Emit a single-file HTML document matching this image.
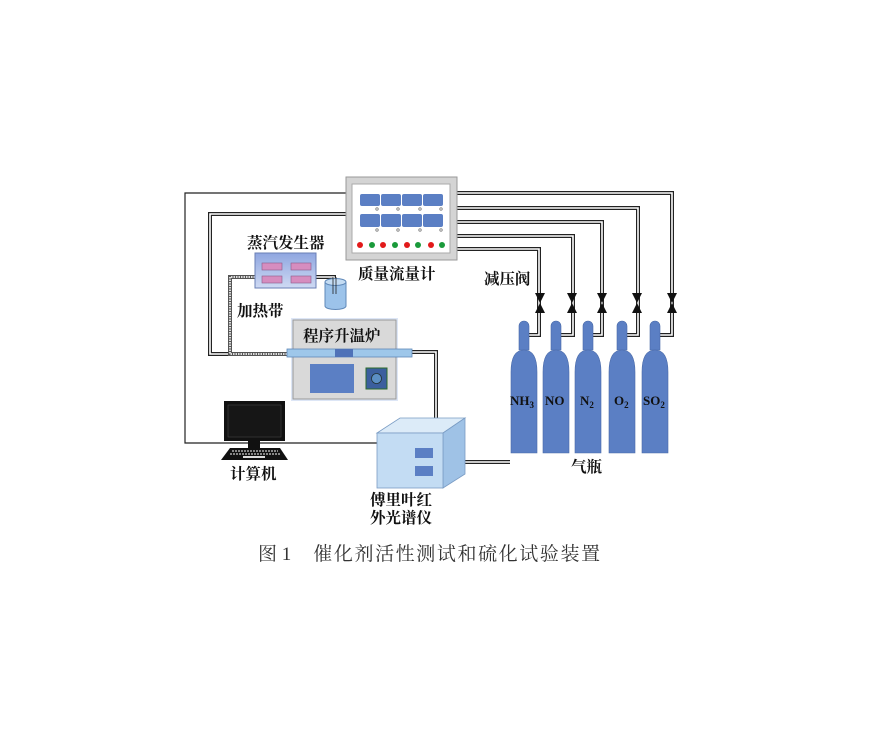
<!DOCTYPE html>
<html><head><meta charset="utf-8"><style>
html,body{margin:0;padding:0;background:#fff}
svg{display:block}
.l{font-family:"Liberation Serif","Noto Serif CJK SC",serif;font-weight:bold;fill:#111}
</style></head><body>
<svg width="888" height="731" viewBox="0 0 888 731" xmlns="http://www.w3.org/2000/svg">
<defs>
<linearGradient id="sg" x1="0" y1="0" x2="0" y2="1"><stop offset="0" stop-color="#8fa6e0"/><stop offset="1" stop-color="#cfdaf3"/></linearGradient>
</defs>
<polyline points="346,193 185,193 185,443 378,443" fill="none" stroke="#222" stroke-width="1.2"/>
<g fill="none" stroke-linejoin="miter">
<g stroke="#222" stroke-width="4">
<polyline points="346,214 210,214 210,354 288,354"/>
<polyline points="412,352 436,352 436,420"/>
<polyline points="443,462 510,462"/>
<polyline points="457,193 672,193 672,335 655,335"/>
<polyline points="457,208 638,208 638,335 622,335"/>
<polyline points="457,222 602,222 602,335 589,335"/>
<polyline points="457,236 573,236 573,335 556,335"/>
<polyline points="457,249 539,249 539,335 524,335"/>
<polyline points="316,277 334,277 334,295"/>
</g>
<g stroke="#fff" stroke-width="1.6">
<polyline points="346,214 210,214 210,354 288,354"/>
<polyline points="412,352 436,352 436,420"/>
<polyline points="443,462 510,462"/>
<polyline points="457,193 672,193 672,335 655,335"/>
<polyline points="457,208 638,208 638,335 622,335"/>
<polyline points="457,222 602,222 602,335 589,335"/>
<polyline points="457,236 573,236 573,335 556,335"/>
<polyline points="457,249 539,249 539,335 524,335"/>
<polyline points="316,277 334,277 334,295"/>
</g>
</g>
<polyline points="255,277 230,277 230,354 290,354" fill="none" stroke="#555" stroke-width="4"/>
<polyline points="255,277 230,277 230,354 290,354" fill="none" stroke="#ddd" stroke-width="2" stroke-dasharray="1.5 1"/>
<rect x="346" y="177" width="111" height="83" fill="#d4d4d4" stroke="#999"/>
<rect x="352" y="184" width="98" height="69" fill="#fff" stroke="#aaa"/>
<g fill="#5b7fc4">
<rect x="360" y="194" width="20" height="12" rx="2"/><rect x="381" y="194" width="20" height="12" rx="2"/><rect x="402" y="194" width="20" height="12" rx="2"/><rect x="423" y="194" width="20" height="12" rx="2"/>
<rect x="360" y="214" width="20" height="13" rx="2"/><rect x="381" y="214" width="20" height="13" rx="2"/><rect x="402" y="214" width="20" height="13" rx="2"/><rect x="423" y="214" width="20" height="13" rx="2"/>
</g>
<g fill="#bbb" stroke="#777" stroke-width="0.5">
<circle cx="377" cy="209" r="1.5"/><circle cx="398" cy="209" r="1.5"/><circle cx="420" cy="209" r="1.5"/><circle cx="441" cy="209" r="1.5"/>
<circle cx="377" cy="230" r="1.5"/><circle cx="398" cy="230" r="1.5"/><circle cx="420" cy="230" r="1.5"/><circle cx="441" cy="230" r="1.5"/>
</g>
<g>
<circle cx="360" cy="245" r="3" fill="#e21a1a"/><circle cx="372" cy="245" r="3" fill="#1a9a3a"/><circle cx="383" cy="245" r="3" fill="#e21a1a"/><circle cx="395" cy="245" r="3" fill="#1a9a3a"/><circle cx="407" cy="245" r="3" fill="#e21a1a"/><circle cx="418" cy="245" r="3" fill="#1a9a3a"/><circle cx="431" cy="245" r="3" fill="#e21a1a"/><circle cx="442" cy="245" r="3" fill="#1a9a3a"/>
</g>
<text x="358" y="279" class="l" font-size="15.5">质量流量计</text>
<rect x="255" y="253" width="61" height="35" fill="url(#sg)" stroke="#6a7fb5"/>
<g fill="#d68dbf" stroke="#8a5a8a" stroke-width="0.6">
<rect x="262" y="263" width="20" height="7"/><rect x="291" y="263" width="20" height="7"/>
<rect x="262" y="276" width="20" height="7"/><rect x="291" y="276" width="20" height="7"/>
</g>
<text x="247" y="248" class="l" font-size="15.5">蒸汽发生器</text>
<path d="M325,282 L325,306 A10.5,3.5 0 0 0 346,306 L346,282" fill="#9cc3ea" stroke="#5f88b8"/>
<ellipse cx="335.5" cy="282" rx="10.5" ry="3.5" fill="#c4dcf3" stroke="#5f88b8"/>
<line x1="333" y1="277" x2="333" y2="294" stroke="#222" stroke-width="0.8"/>
<line x1="336" y1="277" x2="336" y2="294" stroke="#222" stroke-width="0.8"/>
<text x="237" y="316" class="l" font-size="15.5">加热带</text>
<rect x="291" y="318" width="107" height="83" fill="#c7d5f0" opacity="0.6"/>
<rect x="293" y="320" width="103" height="79" fill="#d9d9d9" stroke="#999"/>
<text x="303" y="341" class="l" font-size="15.5">程序升温炉</text>
<rect x="287" y="349" width="125" height="8" fill="#9ec7ea" stroke="#5f88b8" stroke-width="0.8"/>
<rect x="335" y="349" width="18" height="8" fill="#4f72b8"/>
<rect x="310" y="364" width="44" height="29" fill="#5b7fc4"/>
<rect x="366" y="368" width="21" height="21" fill="#3b5f9e" stroke="#2b6a2b"/>
<circle cx="376.5" cy="378.5" r="5" fill="#5b8fc4" stroke="#233" stroke-width="0.8"/>
<rect x="224" y="401" width="61" height="40" fill="#111"/>
<rect x="228" y="405" width="53" height="32" fill="#161616" stroke="#444" stroke-width="0.6"/>
<rect x="248" y="441" width="12" height="7" fill="#111"/>
<polygon points="230,448 280,448 288,460 221,460" fill="#111"/>
<g stroke="#ccc" stroke-width="1.2" stroke-dasharray="2 1">
<line x1="232" y1="451" x2="278" y2="451"/><line x1="230" y1="454" x2="281" y2="454"/>
</g>
<rect x="243" y="456" width="22" height="2" fill="#ddd"/>
<text x="230" y="479" class="l" font-size="15.5">计算机</text>
<polygon points="377,433 443,433 465,418 400,418" fill="#dcebf8" stroke="#7a9cc4" stroke-width="0.8"/>
<polygon points="443,433 465,418 465,474 443,488" fill="#9fc2e6" stroke="#7a9cc4" stroke-width="0.8"/>
<rect x="377" y="433" width="66" height="55" fill="#c3dcf3" stroke="#7a9cc4" stroke-width="0.8"/>
<rect x="415" y="448" width="18" height="10" fill="#5b7fc4"/>
<rect x="415" y="466" width="18" height="10" fill="#5b7fc4"/>
<text x="370" y="505" class="l" font-size="15.5">傅里叶红</text>
<text x="370" y="523" class="l" font-size="15.5">外光谱仪</text>
<g fill="#111">
<polygon points="535,293 545,293 535,313 545,313"/>
<polygon points="567,293 577,293 567,313 577,313"/>
<polygon points="597,293 607,293 597,313 607,313"/>
<polygon points="632,293 642,293 632,313 642,313"/>
<polygon points="667,293 677,293 667,313 677,313"/>
</g>
<g fill="#5b7fc4" stroke="#4a6aa8" stroke-width="0.6">
<path d="M519,350 L519,326 A5,5 0 0 1 529,326 L529,350 Z"/><path d="M511,453 L511,372 Q511,350 524,350 Q537,350 537,372 L537,453 Z"/>
<path d="M551,350 L551,326 A5,5 0 0 1 561,326 L561,350 Z"/><path d="M543,453 L543,372 Q543,350 556,350 Q569,350 569,372 L569,453 Z"/>
<path d="M583,350 L583,326 A5,5 0 0 1 593,326 L593,350 Z"/><path d="M575,453 L575,372 Q575,350 588,350 Q601,350 601,372 L601,453 Z"/>
<path d="M617,350 L617,326 A5,5 0 0 1 627,326 L627,350 Z"/><path d="M609,453 L609,372 Q609,350 622,350 Q635,350 635,372 L635,453 Z"/>
<path d="M650,350 L650,326 A5,5 0 0 1 660,326 L660,350 Z"/><path d="M642,453 L642,372 Q642,350 655,350 Q668,350 668,372 L668,453 Z"/>
</g>
<g class="l" font-size="13" style="font-family:'Liberation Serif',serif">
<text x="510" y="405">NH<tspan font-size="9" dy="3">3</tspan></text>
<text x="545" y="405">NO</text>
<text x="580" y="405">N<tspan font-size="9" dy="3">2</tspan></text>
<text x="614" y="405">O<tspan font-size="9" dy="3">2</tspan></text>
<text x="643" y="405">SO<tspan font-size="9" dy="3">2</tspan></text>
</g>
<text x="571" y="472" class="l" font-size="15.5">气瓶</text>
<text x="484" y="284" class="l" font-size="15.5">减压阀</text>
<text x="258" y="560" font-family="'Liberation Serif','Noto Serif CJK SC',serif" font-size="19" fill="#333">图 1<tspan dx="22" letter-spacing="1.6">催化剂活性测试和硫化试验装置</tspan></text>
</svg>
</body></html>
